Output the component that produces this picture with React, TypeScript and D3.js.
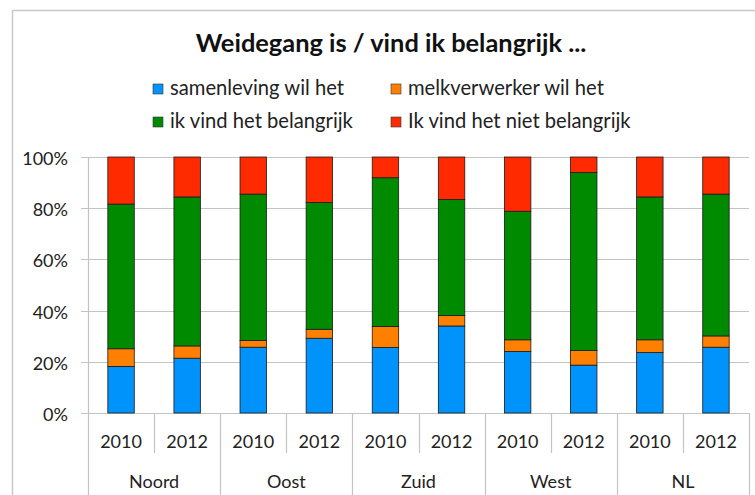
import React from "react";
import * as d3 from "d3";

const regions = ["Noord", "Oost", "Zuid", "West", "NL"];
const years = ["2010", "2012"];
const seriesNames = [
  "samenleving wil het",
  "melkverwerker wil het",
  "ik vind het belangrijk",
  "Ik vind het niet belangrijk",
];
const seriesColors = ["#0093fb", "#ff8000", "#008a00", "#ff2a00"];
// per bar (Noord 2010, Noord 2012, Oost 2010, ...)
const samenleving = [18.2, 21.4, 25.7, 29.2, 25.6, 34.0, 24.0, 18.7, 23.6, 25.7];
const melkverwerker = [6.9, 4.8, 2.6, 3.5, 8.2, 4.1, 4.6, 5.7, 5.0, 4.4];
const belangrijk = [56.5, 58.2, 57.2, 49.5, 58.1, 45.3, 50.2, 69.5, 55.8, 55.4];
const nietBelangrijk = [18.4, 15.6, 14.5, 17.8, 8.1, 16.6, 21.2, 6.1, 15.6, 14.5];
const yTicks = [0, 20, 40, 60, 80, 100];

const W = 755;
const H = 495;
const FONT = "Lato, 'Open Sans', sans-serif";

export default function App() {
  const bars = regions.flatMap((r) => years.map((y) => `${r}|${y}`));
  const rows = bars.map((key, i) => ({
    key,
    s0: samenleving[i],
    s1: melkverwerker[i],
    s2: belangrijk[i],
    s3: nietBelangrijk[i],
  }));
  const keys = ["s0", "s1", "s2", "s3"];
  const stacked = d3.stack<any>().keys(keys)(rows);

  const left = 88;
  const right = 749;
  const top = 157;
  const bottom = 413;

  const x = d3.scaleBand().domain(bars).range([left, right]).paddingInner(0.6).paddingOuter(0.3);
  const xCat = d3.scaleBand().domain(bars).range([left, right]);
  const y = d3.scaleLinear().domain([0, 100]).range([bottom, top]);

  const grid = "#c4c4c4";

  return (
    <svg width={W} height={H} style={{ position: "absolute", left: 0, top: 0, display: "block" }}>
      <rect x={0} y={0} width={W} height={H} fill="#fff" />
      {/* chart frame */}
      <path d={`M12.5,${H} V10.5 H${W}`} fill="none" stroke="#c8c8c8" strokeWidth={1.5} />
      <text x={391} y={52} textAnchor="middle" fontFamily={FONT} fontWeight="bold" fontSize={25.4} fill="#111">
        Weidegang is / vind ik belangrijk ...
      </text>
      {/* legend */}
      {seriesNames.map((name, i) => {
        const lx = i % 2 === 0 ? 153 : 391;
        const ly = i < 2 ? 84 : 117;
        return (
          <g key={name}>
            <rect x={lx} y={ly} width={10} height={10} fill={seriesColors[i]} stroke="#333" strokeWidth={0.6} />
            <text x={lx + 17} y={ly + 11} fontFamily={FONT} fontSize={20.2} fill="#222">
              {name}
            </text>
          </g>
        );
      })}
      {/* gridlines */}
      {yTicks.map((t) => (
        <g key={t}>
          <line x1={81} x2={right} y1={Math.round(y(t)) + 0.5} y2={Math.round(y(t)) + 0.5} stroke={grid} strokeWidth={1.2} />
          <text x={68} y={y(t) + 8} textAnchor="end" fontFamily={FONT} fontSize={18} fill="#222">
            {t}%
          </text>
        </g>
      ))}
      <line x1={left + 0.5} x2={left + 0.5} y1={top} y2={H} stroke={grid} strokeWidth={1.2} />
      {/* bars */}
      {stacked.map((layer, si) => (
        <g key={si}>
          {layer.map((d, bi) => (
            <rect
              key={bi}
              x={x(bars[bi])}
              y={y(d[1])}
              width={x.bandwidth()}
              height={y(d[0]) - y(d[1])}
              fill={seriesColors[si]}
              stroke="#1a1a1a"
              strokeWidth={0.8}
            />
          ))}
        </g>
      ))}
      {/* category axis */}
      {bars.map((b, i) => {
        const x0 = xCat(b)!;
        const x1 = x0 + xCat.bandwidth();
        const endOfGroup = i % 2 === 1;
        return (
          <g key={b}>
            <line
              x1={Math.round(x1) + 0.5}
              x2={Math.round(x1) + 0.5}
              y1={bottom}
              y2={endOfGroup ? H : 453}
              stroke={grid}
              strokeWidth={1.2}
            />
            <text x={(x0 + x1) / 2} y={448} textAnchor="middle" fontFamily={FONT} fontSize={18} fill="#222">
              {b.split("|")[1]}
            </text>
          </g>
        );
      })}
      {regions.map((r) => {
        const a = xCat(`${r}|2010`)!;
        const b = xCat(`${r}|2012`)! + xCat.bandwidth();
        return (
          <text key={r} x={(a + b) / 2} y={488} textAnchor="middle" fontFamily={FONT} fontSize={18} fill="#222">
            {r}
          </text>
        );
      })}
    </svg>
  );
}
